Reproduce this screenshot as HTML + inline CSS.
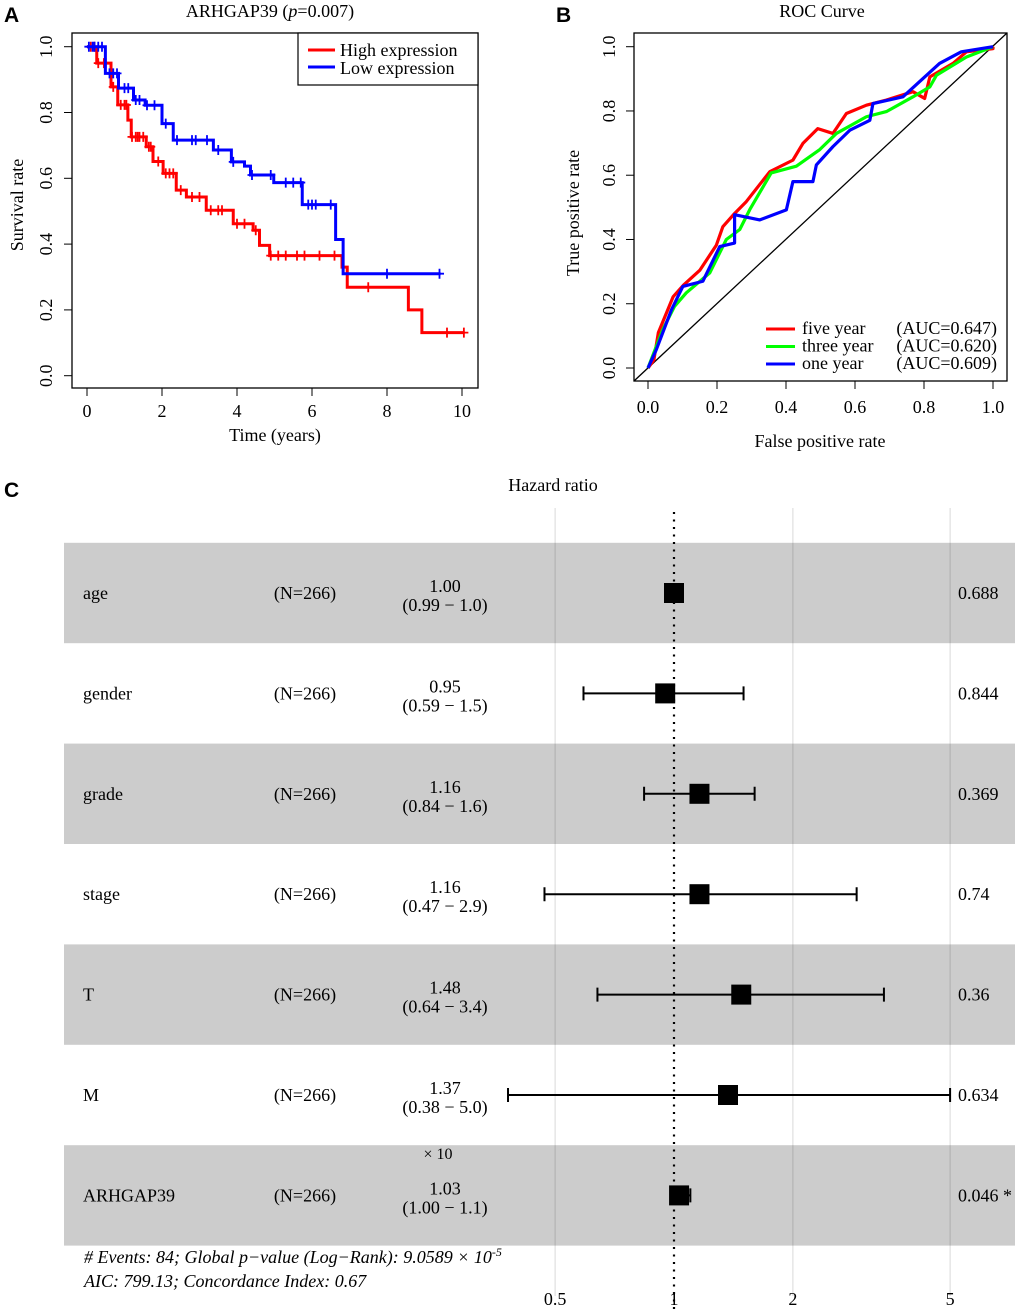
<!DOCTYPE html>
<html><head><meta charset="utf-8"><style>
html,body{margin:0;padding:0;background:#fff;}
svg{display:block;font-family:"Liberation Serif",serif;}
.lab{font-family:"Liberation Sans",sans-serif;font-weight:bold;font-size:21px;}
</style></head><body>
<svg id="fig" width="1020" height="1309" viewBox="0 0 1020 1309" xmlns="http://www.w3.org/2000/svg">
<text class="lab" x="4" y="22">A</text>
<text class="lab" x="556" y="22">B</text>
<text class="lab" x="4" y="497">C</text>
<g id="pa"></g>
<g id="pb"></g>
<g id="pc"></g>
</svg>
<script>
// ---- KM data ----
const highT=[0,0.26,0.64,0.82,1.09,1.18,1.58,1.76,2.03,2.38,2.65,3.18,3.9,4.43,4.6,4.87,6.8,6.94,8.57,8.93,10.07];
const highS=[1,0.95,0.878,0.823,0.777,0.726,0.696,0.651,0.615,0.564,0.543,0.503,0.462,0.442,0.396,0.365,0.33,0.269,0.2,0.131,0.131];
const highCens=[0.1,0.2,0.3,0.45,0.5,0.7,0.9,1.0,1.05,1.2,1.3,1.35,1.4,1.5,1.65,1.7,1.9,2.1,2.2,2.3,2.5,2.8,3.0,3.3,3.5,3.6,4.0,4.2,4.5,4.9,5.1,5.3,5.6,5.8,6.2,6.6,7.5,9.6,10.05];
const lowT=[0,0.49,0.84,1.24,1.55,2.0,2.3,3.37,3.85,4.2,4.36,4.98,5.74,6.63,6.83,9.43];
const lowS=[1,0.919,0.874,0.838,0.822,0.766,0.716,0.686,0.65,0.637,0.61,0.587,0.52,0.414,0.31,0.31];
const lowCens=[0.05,0.15,0.2,0.3,0.4,0.6,0.7,0.8,1.0,1.1,1.3,1.4,1.6,1.8,2.1,2.4,2.8,2.9,3.2,3.5,3.9,4.4,4.9,5.3,5.5,5.7,5.9,6.0,6.1,6.5,8.0,9.4];
const kmXTicks=[0,2,4,6,8,10];
const kmYTicks=[0,0.2,0.4,0.6,0.8,1.0];
// ---- ROC data ----
const redF=[0,0.017,0.03,0.073,0.103,0.15,0.198,0.217,0.251,0.285,0.353,0.42,0.449,0.492,0.536,0.575,0.633,0.691,0.768,0.802,0.817,0.884,0.923,1,1];
const redT=[0,0.025,0.11,0.222,0.258,0.304,0.382,0.44,0.481,0.518,0.611,0.647,0.699,0.745,0.73,0.792,0.818,0.834,0.86,0.839,0.906,0.948,0.984,0.994,1];
const greenF=[0,0.043,0.077,0.111,0.179,0.227,0.266,0.295,0.357,0.43,0.498,0.546,0.633,0.691,0.768,0.817,0.836,0.923,1];
const greenT=[0,0.12,0.192,0.234,0.296,0.40,0.431,0.493,0.607,0.628,0.68,0.73,0.782,0.798,0.844,0.875,0.911,0.968,1];
const blueF=[0,0.024,0.068,0.101,0.159,0.208,0.251,0.251,0.324,0.401,0.42,0.478,0.488,0.536,0.585,0.643,0.652,0.739,0.787,0.845,0.908,1];
const blueT=[0,0.057,0.181,0.254,0.27,0.378,0.389,0.477,0.461,0.492,0.58,0.58,0.632,0.689,0.74,0.771,0.823,0.844,0.891,0.948,0.984,1];
const rocTicks=[0,0.2,0.4,0.6,0.8,1.0];
// ---- Forest data ----
const vars=["age","gender","grade","stage","T","M","ARHGAP39"];
const hr=[1.00,0.95,1.16,1.16,1.48,1.37,1.03];
const lo=[0.99,0.59,0.84,0.47,0.64,0.38,1.00];
const hi=[1.0,1.5,1.6,2.9,3.4,5.0,1.1];
const hrLab=["1.00","0.95","1.16","1.16","1.48","1.37","1.03"];
const ciLab=["(0.99 − 1.0)","(0.59 − 1.5)","(0.84 − 1.6)","(0.47 − 2.9)","(0.64 − 3.4)","(0.38 − 5.0)","(1.00 − 1.1)"];
const pLab=["0.688","0.844","0.369","0.74","0.36","0.634","0.046 *"];
const hrTicks=[0.5,1,2,5];

const NS="http://www.w3.org/2000/svg";
const FS=18;
function mk(parent,tag,attrs,txt){const e=document.createElementNS(NS,tag);for(const k in attrs)e.setAttribute(k,attrs[k]);if(txt!==undefined)e.textContent=txt;parent.appendChild(e);return e;}

// ===== Panel A =====
(function(){
const g=document.getElementById('pa');
const X=t=>87+t*37.5, Y=s=>375.7-s*329;
let e=mk(g,'rect',{x:72,y:33,width:406,height:355,fill:'none',stroke:'#000','stroke-width':1.3});

kmXTicks.forEach(t=>{mk(g,'line',{x1:X(t),x2:X(t),y1:388,y2:396,stroke:'#000'});
 e=mk(g,'text',{x:X(t),y:417,'font-size':FS,'text-anchor':'middle'},String(t));
 });
kmYTicks.forEach(s=>{mk(g,'line',{x1:64,x2:72,y1:Y(s),y2:Y(s),stroke:'#000'});
 e=mk(g,'text',{x:0,y:0,'font-size':FS,'text-anchor':'middle',transform:`translate(52,${Y(s)}) rotate(-90)`},s.toFixed(1));
 });
e=mk(g,'text',{x:270,y:17,'font-size':FS,'text-anchor':'middle'});
e.innerHTML='ARHGAP39 (<tspan font-style="italic">p</tspan>=0.007)';

e=mk(g,'text',{x:275,y:441,'font-size':FS,'text-anchor':'middle'},'Time (years)');

e=mk(g,'text',{x:0,y:0,'font-size':FS,'text-anchor':'middle',transform:'translate(23,205) rotate(-90)'},'Survival rate');

function stepPath(T,S){let d=`M${X(T[0])},${Y(S[0])}`;for(let i=1;i<T.length;i++){d+=` H${X(T[i])} V${Y(S[i])}`;}return d;}
function survAt(T,S,t){let s=S[0];for(let i=0;i<T.length;i++){if(T[i]<=t)s=S[i];}return s;}
function curve(T,S,C,col,name){
 const p=mk(g,'path',{d:stepPath(T,S),fill:'none',stroke:col,'stroke-width':3});
 
 C.forEach(t=>{const x=X(t),y=Y(survAt(T,S,t));
  const c=mk(g,'path',{d:`M${x},${y-5}V${y+5}M${x-4.5},${y}H${x+4.5}`,stroke:col,'stroke-width':1.8});
  });
}
curve(highT,highS,highCens,'#ff0000','high-expression');
curve(lowT,lowS,lowCens,'#0000ff','low-expression');
e=mk(g,'rect',{x:298,y:33,width:180,height:52,fill:'#fff',stroke:'#000','stroke-width':1.2});

mk(g,'line',{x1:308,x2:335,y1:50,y2:50,stroke:'#ff0000','stroke-width':3});
mk(g,'line',{x1:308,x2:335,y1:67,y2:67,stroke:'#0000ff','stroke-width':3});
e=mk(g,'text',{x:340,y:56,'font-size':FS},'High expression');
e=mk(g,'text',{x:340,y:74,'font-size':FS},'Low expression');
})();

// ===== Panel B =====
(function(){
const g=document.getElementById('pb');
const X=f=>648+f*345, Y=t=>368-t*321.3;
let e=mk(g,'rect',{x:634,y:33,width:373,height:348,fill:'none',stroke:'#000','stroke-width':1.3});

rocTicks.forEach(v=>{mk(g,'line',{x1:X(v),x2:X(v),y1:381,y2:389,stroke:'#000'});
 e=mk(g,'text',{x:X(v),y:413,'font-size':FS,'text-anchor':'middle'},v.toFixed(1));
 
 mk(g,'line',{x1:626,x2:634,y1:Y(v),y2:Y(v),stroke:'#000'});
 e=mk(g,'text',{x:0,y:0,'font-size':FS,'text-anchor':'middle',transform:`translate(615,${Y(v)}) rotate(-90)`},v.toFixed(1));
 });
const x0=634,y0=Y((634-648)/345),x1=X((33-368)/-321.3),y1=33;
e=mk(g,'line',{x1:x0,y1:Math.min(381,y0),x2:Math.min(1007,x1),y2:y1,stroke:'#000','stroke-width':1.3});

e=mk(g,'text',{x:822,y:17,'font-size':FS,'text-anchor':'middle'},'ROC Curve');
e=mk(g,'text',{x:820,y:447,'font-size':FS,'text-anchor':'middle'},'False positive rate');
e=mk(g,'text',{x:0,y:0,'font-size':FS,'text-anchor':'middle',transform:'translate(579,213) rotate(-90)'},'True positive rate');
function line(F,T,col,name){const pts=F.map((f,i)=>X(f)+','+Y(T[i])).join(' ');
 const p=mk(g,'polyline',{points:pts,fill:'none',stroke:col,'stroke-width':3.2,'stroke-linejoin':'round'});
 }
line(redF,redT,'#ff0000','five-year-roc-line');
line(greenF,greenT,'#00ff00','three-year-roc-line');
line(blueF,blueT,'#0000ff','one-year-roc-line');
const leg=[['#ff0000','five year','(AUC=0.647)'],['#00ff00','three year','(AUC=0.620)'],['#0000ff','one year','(AUC=0.609)']];
leg.forEach((l,i)=>{const y=329+i*17.5;
 mk(g,'line',{x1:766,x2:795,y1:y,y2:y,stroke:l[0],'stroke-width':3});
 e=mk(g,'text',{x:802,y:y+5,'font-size':FS},l[1]);
 e=mk(g,'text',{x:997,y:y+5,'font-size':FS,'text-anchor':'end'},l[2]);});
})();

// ===== Panel C =====
(function(){
const g=document.getElementById('pc');
const X=v=>674+395*Math.log10(v);
const rowY=i=>593+i*100.4;
let e;
vars.forEach((v,i)=>{if(i%2===0){e=mk(g,'rect',{x:64,y:rowY(i)-50.2,width:951,height:100.4,fill:'#cccccc'});
 }});
hrTicks.forEach(t=>{if(t===1)return;e=mk(g,'line',{x1:X(t),x2:X(t),y1:508,y2:1296,stroke:'#000','stroke-opacity':0.15,'stroke-width':1});
 });
hrTicks.forEach(t=>{e=mk(g,'text',{x:X(t),y:1305,'font-size':FS,'text-anchor':'middle'},String(t));
 });
e=mk(g,'line',{x1:X(1),x2:X(1),y1:512,y2:1309,stroke:'#000','stroke-width':2.2,'stroke-dasharray':'2,5.5'});

e=mk(g,'text',{x:553,y:491,'font-size':FS,'text-anchor':'middle'},'Hazard ratio');
vars.forEach((v,i)=>{const y=rowY(i);
 e=mk(g,'text',{x:83,y:y+6,'font-size':FS},v);
 e=mk(g,'text',{x:305,y:y+6,'font-size':FS,'text-anchor':'middle'},'(N=266)');
 e=mk(g,'text',{x:445,y:y-1,'font-size':FS,'text-anchor':'middle'},hrLab[i]);
 e=mk(g,'text',{x:445,y:y+18,'font-size':FS,'text-anchor':'middle'},ciLab[i]);
 e=mk(g,'text',{x:958,y:y+6,'font-size':FS},pLab[i]);
 const a=X(lo[i]),b=X(hi[i]);
 e=mk(g,'path',{d:`M${a},${y}H${b}M${a},${y-7}V${y+7}M${b},${y-7}V${y+7}`,stroke:'#000','stroke-width':2,fill:'none'});
 
 e=mk(g,'rect',{x:X(hr[i])-10,y:y-10,width:20,height:20,fill:'#000'});
 
});
e=mk(g,'text',{x:438,y:1159,'font-size':16,'text-anchor':'middle'},'× 10');
e=mk(g,'text',{x:84,y:1263,'font-size':18,'font-style':'italic'});
e.innerHTML='# Events: 84; Global p−value (Log−Rank): 9.0589 × 10<tspan dy="-7" font-size="12">-5</tspan>';

e=mk(g,'text',{x:84,y:1287,'font-size':18,'font-style':'italic'},'AIC: 799.13; Concordance Index: 0.67');

})();
</script>
</body></html>
